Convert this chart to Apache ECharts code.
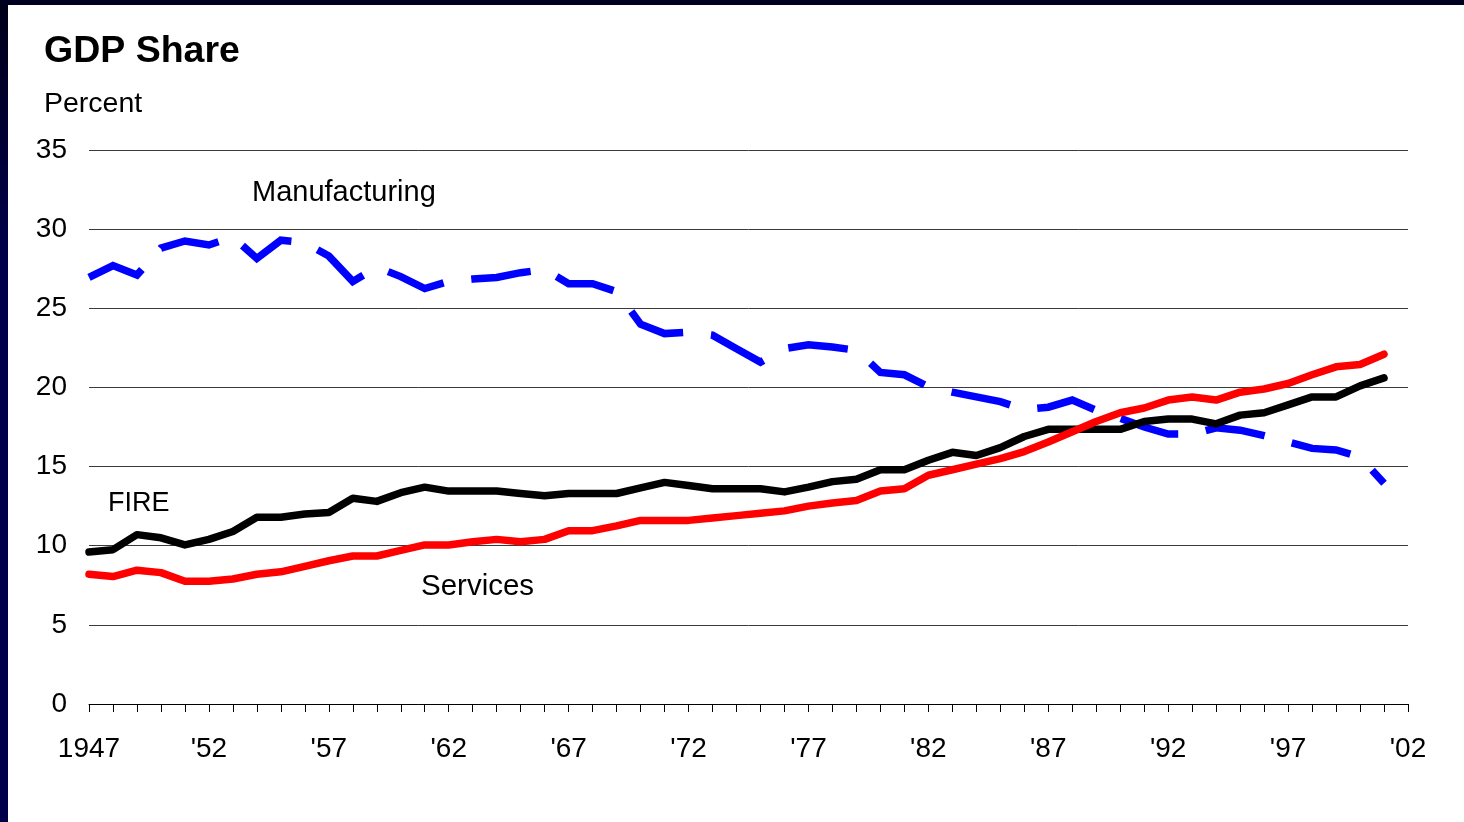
<!DOCTYPE html>
<html>
<head>
<meta charset="utf-8">
<script src="https://cdn.jsdelivr.net/npm/echarts@6/dist/echarts.min.js"></script>
<style>
html,body{margin:0;padding:0;background:#fff;}
#chart{position:absolute;left:0;top:0;width:1464px;height:822px;}
.bl{position:absolute;left:0;top:0;width:8px;height:822px;background:linear-gradient(#000018,#00004a 30%,#00004a);}
.bt{position:absolute;left:0;top:0;width:1464px;height:5px;background:#000020;}
</style>
</head>
<body>
<div id="chart"></div>
<div class="bl"></div>
<div class="bt"></div>
<script>
const years = ['1947','1948','1949','1950','1951','1952','1953','1954','1955','1956',
  '1957','1958','1959','1960','1961','1962','1963','1964','1965','1966',
  '1967','1968','1969','1970','1971','1972','1973','1974','1975','1976',
  '1977','1978','1979','1980','1981','1982','1983','1984','1985','1986',
  '1987','1988','1989','1990','1991','1992','1993','1994','1995','1996',
  '1997','1998','1999','2000','2001','2002'];

const fire = [9.6, 9.75, 10.7, 10.5, 10.05, 10.4, 10.9, 11.8, 11.8, 12.0,
  12.1, 13.0, 12.8, 13.35, 13.7, 13.45, 13.45, 13.45, 13.3, 13.15,
  13.3, 13.3, 13.3, 13.65, 14.0, 13.8, 13.6, 13.6, 13.6, 13.4,
  13.7, 14.05, 14.2, 14.8, 14.8, 15.4, 15.9, 15.7, 16.2, 16.9,
  17.35, 17.35, 17.35, 17.35, 17.85, 18.0, 18.0, 17.7, 18.25, 18.4,
  18.9, 19.4, 19.4, 20.1, 20.6];

const services = [8.2, 8.05, 8.45, 8.3, 7.75, 7.75, 7.9, 8.2, 8.35, 8.7,
  9.05, 9.35, 9.35, 9.7, 10.05, 10.05, 10.25, 10.4, 10.25, 10.4,
  10.95, 10.95, 11.25, 11.6, 11.6, 11.6, 11.75, 11.9, 12.05, 12.2,
  12.5, 12.7, 12.85, 13.45, 13.6, 14.45, 14.8, 15.15, 15.5, 15.95,
  16.55, 17.2, 17.85, 18.4, 18.7, 19.2, 19.4, 19.2, 19.7, 19.9,
  20.25, 20.8, 21.3, 21.45, 22.1];

const manufacturing = [26.95, 27.7, 27.1, 28.8, 29.25, 29.0, 29.5, 28.15, 29.3, 29.15,
  28.3, 26.7, 27.6, 27.0, 26.25, 26.7, 26.85, 26.95, 27.25, 27.45,
  26.55, 26.55, 26.05, 24.0, 23.4, 23.5, 23.3, 22.45, 21.6, 22.45,
  22.7, 22.55, 22.35, 20.95, 20.8, 20.05, 19.7, 19.4, 19.1, 18.6,
  18.75, 19.2, 18.55, 18.05, 17.5, 17.05, 17.05, 17.45, 17.3, 16.95,
  16.55, 16.15, 16.05, 15.6, 13.95];

const yTicks = {min: 0, max: 35, step: 5};

const FONT = '"Liberation Sans", Arial, sans-serif';
const chart = echarts.init(document.getElementById('chart'), null, {renderer: 'canvas'});
chart.setOption({
  backgroundColor: 'transparent',
  animation: false,
  grid: {left: 89, right: 56, top: 150, bottom: 118},
  xAxis: {
    type: 'category',
    data: years,
    boundaryGap: false,
    axisLine: {lineStyle: {color: '#000', width: 1}},
    axisTick: {show: true, interval: 0, length: 8, inside: false, lineStyle: {color: '#000', width: 1}},
    axisLabel: {
      interval: 4, margin: 31, color: '#000', fontFamily: FONT, fontSize: 28,
      formatter: function (v) { return v === '1947' ? v : "'" + v.slice(2); }
    },
    splitLine: {show: false}
  },
  yAxis: {
    type: 'value',
    min: yTicks.min, max: yTicks.max, interval: yTicks.step,
    axisLine: {show: false},
    axisTick: {show: false},
    axisLabel: {margin: 22, color: '#000', fontFamily: FONT, fontSize: 28},
    splitLine: {lineStyle: {color: '#3a3a3a', width: 1}}
  },
  series: [
    {name: 'Manufacturing', type: 'line', data: manufacturing, symbol: 'none',
     lineStyle: {color: '#0000ff', width: 7.5, type: [60, 28], cap: 'butt', join: 'miter'}, z: 2},
    {name: 'FIRE', type: 'line', data: fire, symbol: 'none',
     lineStyle: {color: '#000000', width: 7.5, cap: 'round', join: 'round'}, z: 3},
    {name: 'Services', type: 'line', data: services, symbol: 'none',
     lineStyle: {color: '#ff0000', width: 7.5, cap: 'round', join: 'round'}, z: 4}
  ],
  graphic: [
    {type: 'text', left: 44, top: 33, style: {text: 'GDP Share', font: 'bold 37.5px ' + FONT, fill: '#000'}},
    {type: 'text', left: 44, top: 90, style: {text: 'Percent', font: '28.5px ' + FONT, fill: '#000'}},
    {type: 'text', left: 252, top: 178, style: {text: 'Manufacturing', font: '29px ' + FONT, fill: '#000'}},
    {type: 'text', left: 108, top: 490, style: {text: 'FIRE', font: '27px ' + FONT, fill: '#000'}},
    {type: 'text', left: 421, top: 572, style: {text: 'Services', font: '29.5px ' + FONT, fill: '#000'}}
  ]
});
</script>
</body>
</html>
